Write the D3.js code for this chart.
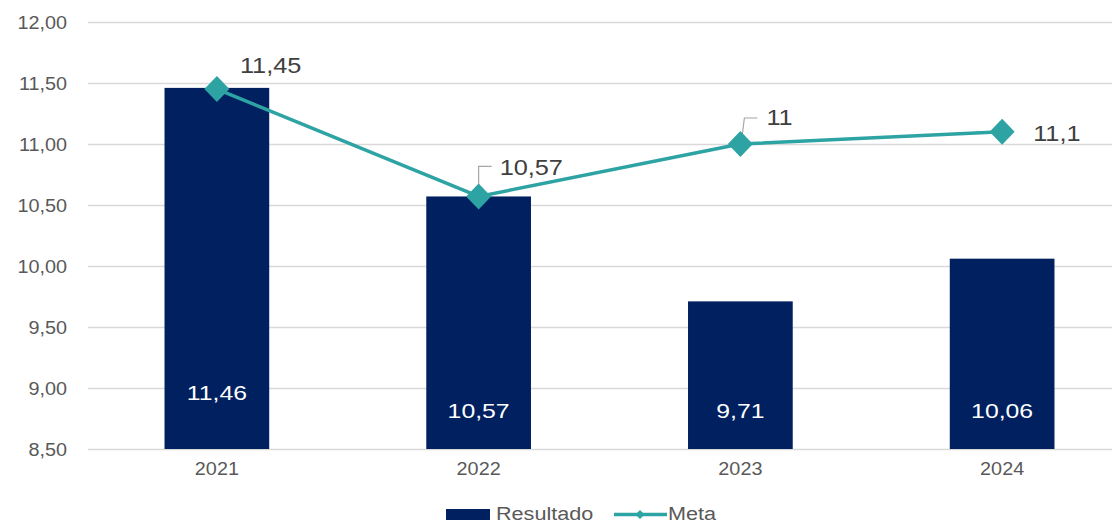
<!DOCTYPE html>
<html>
<head>
<meta charset="utf-8">
<script src="https://cdn.jsdelivr.net/npm/d3@7"></script>
<style>
  html, body { margin: 0; padding: 0; background: #ffffff; }
  svg { display: block; font-family: "Liberation Sans", Arial, sans-serif; }
</style>
</head>
<body>
<svg id="chart" width="1112" height="523"></svg>
<script>
// Data
const years = ["2021", "2022", "2023", "2024"];
const resultado = [11.46, 10.57, 9.71, 10.06];
const meta = [11.45, 10.57, 11, 11.1];
const metaLabels = ["11,45", "10,57", "11", "11,1"];
const yTicks = [8.5, 9, 9.5, 10, 10.5, 11, 11.5, 12];

// Styling
const BAR = "#002060";
const LINE = "#2ea3a3";
const GRID = "#d9d9d9";
const TICK_TXT = "#595959";
const LABEL_TXT = "#404040";

const svg = d3.select("#chart");
const fmt = v => d3.format(".2f")(v).replace(".", ",");

const x = d3.scaleBand().domain(years).range([86, 1133]).paddingInner(0.6).paddingOuter(0.3);
const y = d3.scaleLinear().domain([8.5, 12]).range([449, 22]);

// Slightly widen text glyphs horizontally
function widen(sel, sx) {
  sel.each(function () {
    const w = this.getComputedTextLength();
    d3.select(this).attr("textLength", w * sx).attr("lengthAdjust", "spacingAndGlyphs");
  });
  return sel;
}

// Gridlines
svg.append("g").selectAll("line").data(yTicks).join("line")
  .attr("x1", 88).attr("x2", 1112)
  .attr("y1", d => Math.round(y(d)) + 0.5).attr("y2", d => Math.round(y(d)) + 0.5)
  .attr("stroke", GRID).attr("stroke-width", 1.5);

// Y tick labels
const yAxis = svg.append("g").attr("transform", "translate(67,0)")
  .call(d3.axisLeft(y).tickValues(yTicks).tickFormat(fmt).tickSize(0).tickPadding(0));
yAxis.select(".domain").remove();
yAxis.selectAll("text").attr("font-size", 18).attr("fill", TICK_TXT)
  .attr("font-family", "Liberation Sans, Arial, sans-serif").attr("dy", "0.35em");
widen(yAxis.selectAll("text"), 1.1);

// X tick labels
const xAxis = svg.append("g").attr("transform", "translate(0,449)")
  .call(d3.axisBottom(x).tickSize(0).tickPadding(13));
xAxis.select(".domain").remove();
xAxis.selectAll("text").attr("font-size", 18).attr("fill", TICK_TXT)
  .attr("font-family", "Liberation Sans, Arial, sans-serif");
widen(xAxis.selectAll("text"), 1.1);

// Bars
svg.append("g").selectAll("rect").data(years).join("rect")
  .attr("x", d => x(d)).attr("width", x.bandwidth())
  .attr("y", (d, i) => y(resultado[i]))
  .attr("height", (d, i) => y(8.5) - y(resultado[i]))
  .attr("fill", BAR);

// Bar value labels near the base
const barLabelBase = [400, 418, 418, 418];
widen(svg.append("g").selectAll("text").data(years).join("text")
  .attr("x", d => x(d) + x.bandwidth() / 2)
  .attr("y", (d, i) => barLabelBase[i])
  .attr("text-anchor", "middle")
  .attr("font-size", 21).attr("fill", "#ffffff")
  .text((d, i) => fmt(resultado[i])), 1.18);

// Meta line
const cx = d => x(d) + x.bandwidth() / 2;
const line = d3.line().x(d => cx(d)).y((d, i) => y(meta[i]));
svg.append("path").datum(years)
  .attr("d", line).attr("fill", "none")
  .attr("stroke", LINE).attr("stroke-width", 3.5).attr("stroke-linejoin", "round");

// Leader lines for the meta labels
const leaders = [null, [[0, -10], [0, -30], [13, -30]], [[2, -10], [4, -26], [17, -26]], null];
svg.append("g").selectAll("path").data(years).join("path")
  .attr("d", (d, i) => {
    const L = leaders[i];
    if (!L) return null;
    const px = cx(d), py = y(meta[i]);
    return "M" + L.map(p => [px + p[0], py + p[1]].join(",")).join("L");
  })
  .attr("fill", "none").attr("stroke", "#a6a6a6").attr("stroke-width", 1.2);

// Diamond markers
svg.append("g").selectAll("path").data(years).join("path")
  .attr("transform", (d, i) => `translate(${cx(d)},${y(meta[i])})`)
  .attr("d", "M0,-13L12.5,0L0,13L-12.5,0Z")
  .attr("fill", LINE);

// Meta labels
const metaLabelOffset = [[23, -16], [21, -21], [26, -19], [31, 9]];
widen(svg.append("g").selectAll("text").data(years).join("text")
  .attr("x", (d, i) => cx(d) + metaLabelOffset[i][0])
  .attr("y", (d, i) => y(meta[i]) + metaLabelOffset[i][1])
  .attr("font-size", 22).attr("fill", LABEL_TXT)
  .text((d, i) => metaLabels[i]), 1.15);

// Legend
const lg = svg.append("g");
lg.append("rect").attr("x", 446).attr("y", 509).attr("width", 44).attr("height", 11).attr("fill", BAR);
widen(lg.append("text").attr("x", 496).attr("y", 520).attr("font-size", 18).attr("fill", TICK_TXT).text("Resultado"), 1.2);
lg.append("line").attr("x1", 614).attr("x2", 667).attr("y1", 514.5).attr("y2", 514.5)
  .attr("stroke", LINE).attr("stroke-width", 3.5);
lg.append("path").attr("transform", "translate(640,514.5)").attr("d", "M0,-4.5L4.5,0L0,4.5L-4.5,0Z").attr("fill", LINE);
widen(lg.append("text").attr("x", 668).attr("y", 520).attr("font-size", 18).attr("fill", TICK_TXT).text("Meta"), 1.2);
</script>
</body>
</html>
